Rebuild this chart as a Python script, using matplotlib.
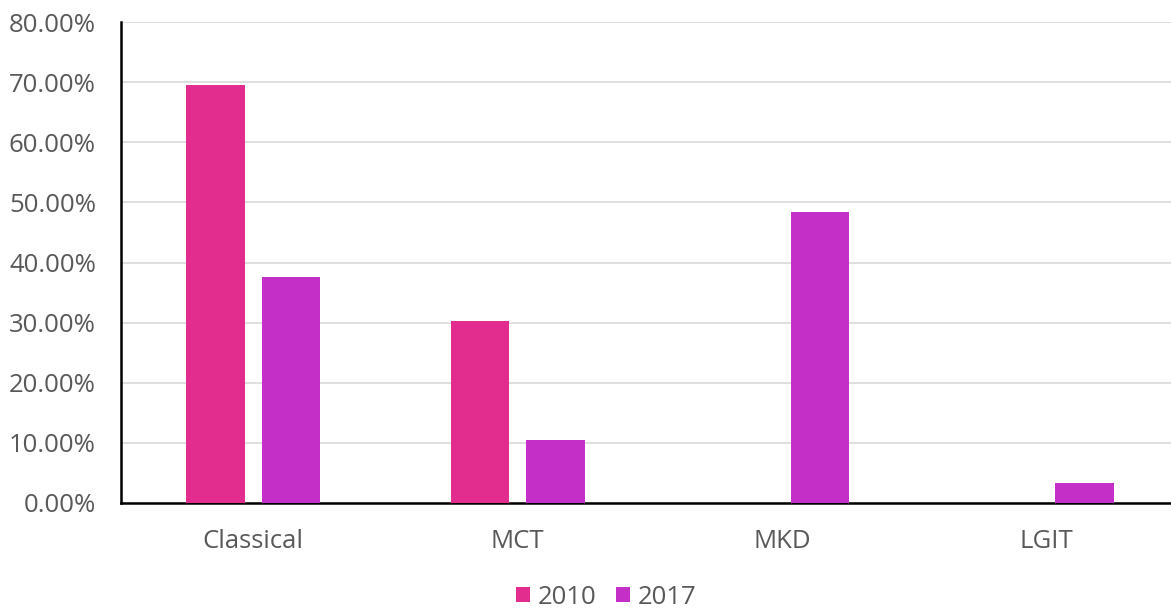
import numpy as np
import matplotlib
matplotlib.use("Agg")
import matplotlib.pyplot as plt
from matplotlib.ticker import FuncFormatter

# chart data
categories = ["Classical", "MCT", "MKD", "LGIT"]
years = ["2010", "2017"]
share_2010 = [0.696, 0.303, 0.0, 0.0]
share_2017 = [0.376, 0.105, 0.484, 0.033]

colors = ["#E22D8E", "#C42FC8"]
text_color = "#595959"

plt.rcParams["font.family"] = ["Open Sans", "DejaVu Sans"]

fig = plt.figure(figsize=(11.71, 6.13), dpi=100)
ax = fig.add_axes([121 / 1171, 1 - 503 / 613, 1058 / 1171, 481 / 613])

x = np.arange(len(categories))
width = 0.22
offset = 0.143
ax.bar(x - offset, share_2010, width, color=colors[0], label=years[0], zorder=3)
ax.bar(x + offset, share_2017, width, color=colors[1], label=years[1], zorder=3)

ax.set_xlim(-0.5, len(categories) - 0.5)
ax.set_ylim(0, 0.8)
ax.set_yticks(np.arange(0, 0.81, 0.1))
ax.yaxis.set_major_formatter(FuncFormatter(lambda v, p: f"{v * 100:.2f}%"))
ax.set_xticks(x)
ax.set_xticklabels(categories)

ax.grid(axis="y", color="#D9D9D9", linewidth=1.2, zorder=0)
ax.tick_params(axis="both", length=0, labelsize=18.5, colors=text_color)
ax.tick_params(axis="y", pad=18)
ax.tick_params(axis="x", pad=19)

for side in ["top", "right"]:
    ax.spines[side].set_visible(False)
for side in ["left", "bottom"]:
    ax.spines[side].set_color("black")
    ax.spines[side].set_linewidth(1.8)

# legend sits a bit right of the figure centre, like the original
fig.legend(loc="center", bbox_to_anchor=(606 / 1171, 1 - 597 / 613), ncol=2,
           frameon=False, fontsize=18.5, labelcolor=text_color,
           handlelength=0.55, handleheight=0.55, handletextpad=0.3,
           columnspacing=0.75)

fig.savefig("out.png", dpi=100)
